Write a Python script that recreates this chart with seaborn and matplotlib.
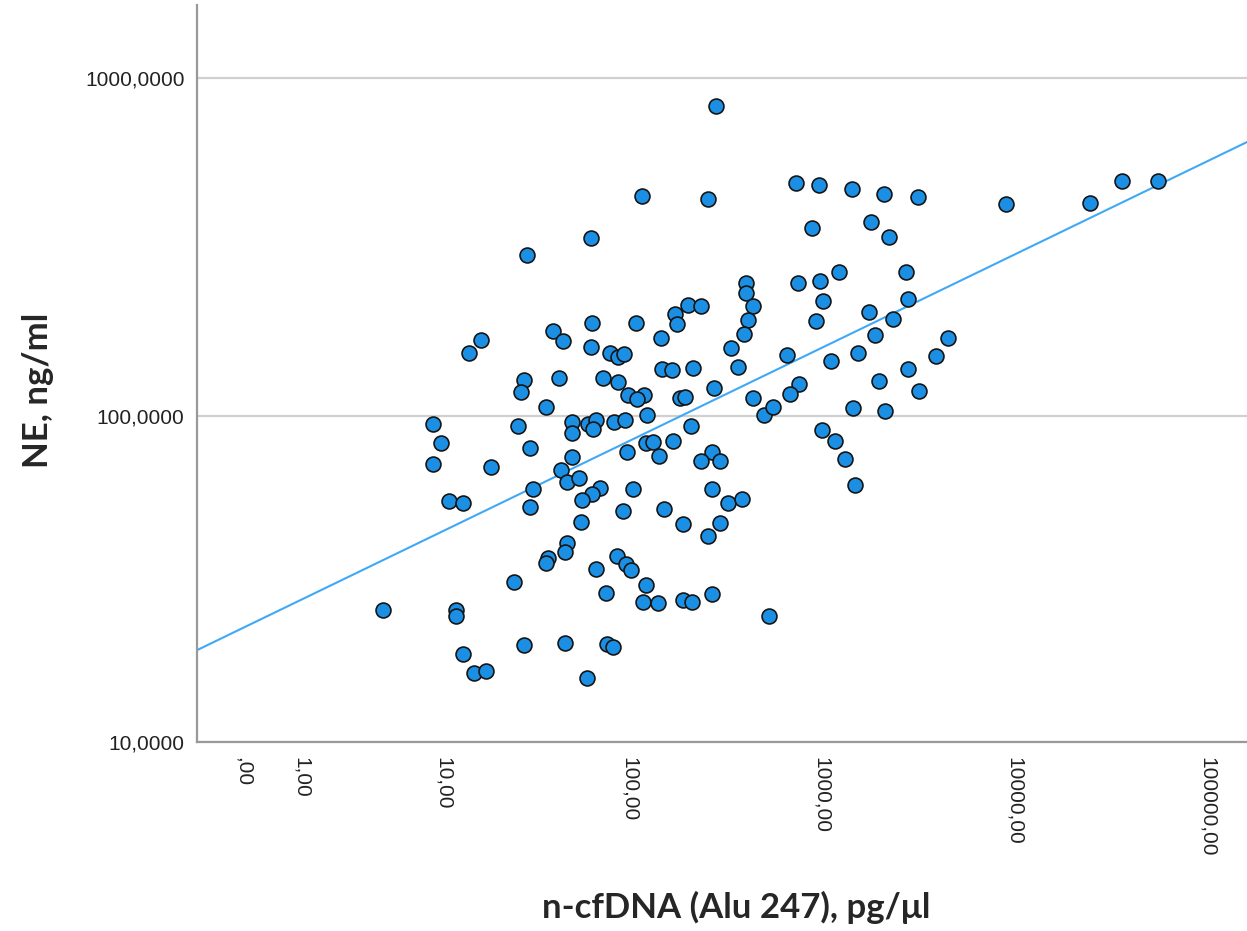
import numpy as np
import matplotlib
matplotlib.use("Agg")
import matplotlib.pyplot as plt
import seaborn as sns

sns.set_style("white")
plt.rcParams['font.family'] = ['Liberation Sans', 'DejaVu Sans']

# -------------------- DATA --------------------
cfdna = [
    28.6, 16.1, 13.9, 39.4, 44.5, 27.7, 26.7, 42.5, 36.2, 116,
    256, 62.6, 404, 404, 439, 417, 394, 202, 236, 172,
    178, 63.6, 108, 146, 62.6, 79, 87.4, 93.6, 338, 370,
    148, 166, 216, 73, 87.4, 98.7, 119, 110, 184, 195,
    276, 439, 503, 123, 737, 974, 1440, 2111, 3181, 896,
    1807, 2233, 752, 982, 1237, 2746, 1022, 2802, 933, 1765,
    2359, 1896, 4550, 665, 1120, 1553, 3915, 2802, 1989, 761,
    686, 3218, 558, 1463, 2144, 8.64, 25.6, 9.68, 29.8, 8.64,
    18.3, 30.8, 29.8, 10.75, 12.9, 37.3, 36.2, 24.4, 4.34, 11.8,
    11.8, 27.7, 12.9, 14.8, 17.2, 50, 60.8, 66.7, 64.6, 83.3,
    94.8, 210, 50, 50, 96.8, 121.7, 133.3, 142.8, 169.5, 269,
    236, 297, 43.6, 46.7, 54.3, 70.1, 63.6, 56.1, 104.8, 92.9,
    152.2, 271, 328, 388, 55.4, 190, 297, 258, 46.7, 45.8,
    85.8, 95.6, 101.9, 66.7, 122, 75.3, 118.2, 141.6, 191, 213,
    269, 534, 45.8, 76.0, 82.3, 59.6, 1010, 1180, 1320, 1493,
    9068, 24734, 36114, 55509, 282,
]
ne = [
    300.5, 168, 154, 179, 167, 128, 118, 130, 106.5, 449,
    439, 338, 249, 232, 212, 193, 175, 213, 212, 200.5,
    188, 189, 189, 171, 160, 154, 149.5, 152.6, 159, 140,
    138, 137, 138.6, 130, 126, 115, 115, 112, 113, 114,
    121, 113, 100.3, 100.9, 490, 483, 470, 454, 446, 360,
    376, 339, 249, 252, 267, 268, 220, 222, 191, 203,
    194, 174, 170, 151.5, 146, 153.6, 150.8, 137.7, 127.3, 124,
    116, 118.4, 106.5, 105.4, 103.4, 94.4, 93.3, 82.8, 80, 71.9,
    70.5, 60.3, 53.5, 55.8, 54.8, 37.5, 36.2, 31.7, 26.0, 25.9,
    24.9, 20.3, 19.0, 16.6, 16.8, 96.1, 94.6, 97.2, 91.4, 95.7,
    97.2, 93.3, 88.8, 75.6, 77.9, 83.2, 83.8, 76.1, 84.3, 78.2,
    73.3, 73.3, 68.9, 63.6, 65.1, 60.7, 58.4, 56.1, 60.3, 52.0,
    52.6, 60.3, 54.8, 56.3, 48.2, 47.4, 47.7, 43.5, 41.5, 39.1,
    38.0, 35.9, 34.4, 34.7, 30.9, 29.3, 27.5, 27.3, 27.8, 27.5,
    29.1, 24.9, 20.5, 20.4, 20.0, 16.05, 90.8, 84.3, 74.4, 62.2,
    424.6, 427.5, 498.5, 498.5, 831,
]

x_ticks = [0, 1, 10, 100, 1000, 10000, 100000]
x_ticklabels = [",00", "1,00", "10,00", "100,00", "1000,00", "10000,00", "100000,00"]
y_ticks = [10, 100, 1000]
y_ticklabels = ["10,0000", "100,0000", "1000,0000"]


# SPSS "safe log" axis: sign(v) * log10(1 + |v|)
def safe_log(v):
    v = np.asarray(v, dtype=float)
    return np.sign(v) * np.log10(1 + np.abs(v))


def safe_log_inv(v):
    v = np.asarray(v, dtype=float)
    return np.sign(v) * (10 ** np.abs(v) - 1)


# -------------------- PLOT --------------------
fig = plt.figure(figsize=(12.47, 9.31), dpi=100)
ax = fig.add_axes([197 / 1247, 1 - 742 / 931, 1050 / 1247, 737 / 931])

ax.set_xscale('function', functions=(safe_log, safe_log_inv))
ax.set_yscale('function', functions=(safe_log, safe_log_inv))
ax.set_xlim(-0.733, 161250)
ax.set_ylim(10, 1648)

# linear fit in the transformed space
coef = np.polyfit(safe_log(cfdna), safe_log(ne), 1)
fit_t = np.linspace(safe_log(-0.733), safe_log(161250), 200)
ax.plot(safe_log_inv(fit_t), safe_log_inv(np.polyval(coef, fit_t)),
        color='#3fa9f5', lw=1.5, zorder=2)

sns.scatterplot(x=cfdna, y=ne, ax=ax, color='#1a8fe3', edgecolor='#151515',
                linewidth=1.2, s=115, zorder=3)

ax.set_xticks(x_ticks)
ax.set_xticklabels(x_ticklabels, rotation=270, va='top', ha='center')
ax.set_yticks(y_ticks)
ax.set_yticklabels(y_ticklabels)
ax.minorticks_off()
ax.tick_params(axis='both', length=0, labelsize=15, colors='#222222')
ax.tick_params(axis='x', pad=11)
ax.tick_params(axis='y', pad=9)

ax.grid(axis='y', color='#d0d0d0', lw=1.6, zorder=0)
ax.set_axisbelow(True)
for side in ['top', 'right']:
    ax.spines[side].set_visible(False)
for side in ['left', 'bottom']:
    ax.spines[side].set_color('#999999')
    ax.spines[side].set_linewidth(1.6)

label_font = dict(family=['Lato', 'Open Sans', 'DejaVu Sans'], fontweight='bold', fontsize=25)
fig.text(736 / 1247, 1 - 907 / 931, "n-cfDNA (Alu 247), pg/\u03bcl",
         ha='center', va='center', **label_font)
fig.text(38 / 1247, 1 - 390 / 931, "NE, ng/ml", rotation=90,
         ha='center', va='center', **label_font)

plt.savefig("out.png", dpi=100)
